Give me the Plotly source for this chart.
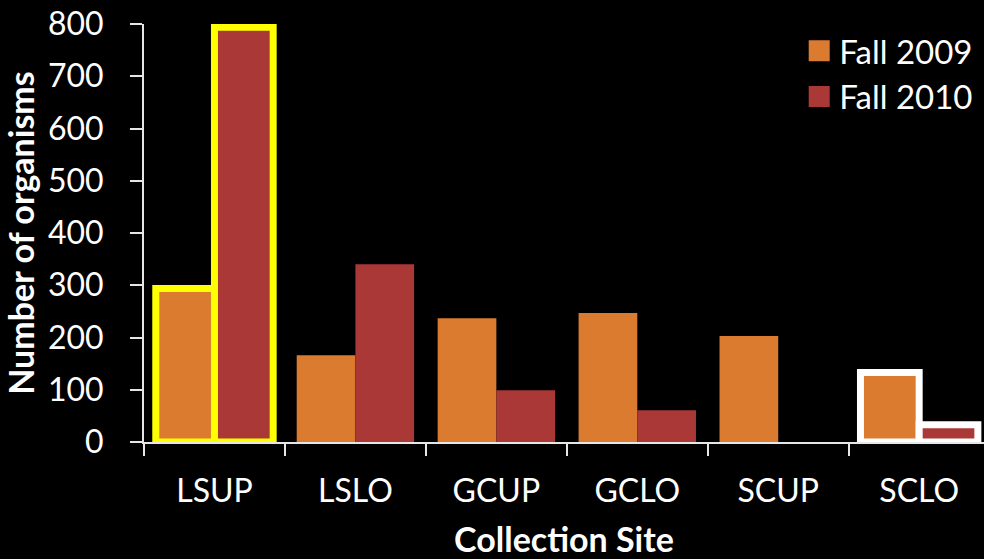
import plotly.graph_objects as go

# Organism counts per collection site, two sampling seasons
sites = ["LSUP", "LSLO", "GCUP", "GCLO", "SCUP", "SCLO"]
fall_2009 = [294, 166, 237, 247, 203, 133]
fall_2010 = [794, 340, 99, 61, 0, 33]
y_ticks = [0, 100, 200, 300, 400, 500, 600, 700, 800]

FONT = "Lato"
ORANGE = "#DB7B30"
RED = "#A93837"
AXIS = "#E6E6E6"
CLEAR = "rgba(0,0,0,0)"

# Highlight outlines: LSUP in yellow, SCLO in white
outline_2009 = ["#FFFF00", CLEAR, CLEAR, CLEAR, CLEAR, "#FFFFFF"]
outline_2010 = ["#FFFF00", CLEAR, CLEAR, CLEAR, CLEAR, "#FFFFFF"]
outline_w = [7, 0, 0, 0, 0, 7]

fig = go.Figure()
fig.add_trace(go.Bar(x=sites, y=fall_2009, name="Fall 2009", showlegend=False,
                     marker=dict(color=ORANGE, line=dict(color=outline_2009, width=outline_w))))
fig.add_trace(go.Bar(x=sites, y=fall_2010, name="Fall 2010", showlegend=False,
                     marker=dict(color=RED, line=dict(color=outline_2010, width=outline_w))))

# Legend entries with larger square swatches
for name, col in [("Fall 2009", ORANGE), ("Fall 2010", RED)]:
    fig.add_trace(go.Scatter(x=[None], y=[None], mode="markers", name=name,
                             marker=dict(symbol="square", size=16, color=col,
                                         line=dict(color=col, width=5))))

fig.update_layout(
    width=984, height=559,
    margin=dict(l=144, r=0, t=24, b=117),
    paper_bgcolor="black", plot_bgcolor="black",
    barmode="group", bargap=0.167, bargroupgap=0,
    font=dict(family=FONT, color="white", size=32),
    legend=dict(x=0.78, y=1.003, xanchor="left", yanchor="top",
                font=dict(family=FONT, size=33, color="white"),
                bgcolor="rgba(0,0,0,0)", itemsizing="trace", tracegroupgap=0),
    showlegend=True,
)
fig.update_xaxes(
    range=[-0.5, 5.46], showline=True, linecolor=AXIS, linewidth=2,
    ticks="outside", tickson="boundaries", ticklen=12, tickwidth=2, tickcolor=AXIS,
    tickfont=dict(family=FONT, size=32, color="white"), ticklabelstandoff=20,
    showgrid=False, zeroline=False,
    title=dict(text="<b>Collection Site</b>", font=dict(family=FONT, size=34, color="white"),
               standoff=24),
)
fig.update_yaxes(
    range=[0, 800], tickvals=y_ticks, showline=True, linecolor=AXIS, linewidth=2,
    ticks="outside", ticklen=12, tickwidth=2, tickcolor=AXIS,
    tickfont=dict(family=FONT, size=32, color="white"), ticklabelstandoff=20,
    showgrid=False, zeroline=False,
    title=dict(text="<b>Number of organisms</b>", font=dict(family=FONT, size=34, color="white"),
               standoff=6),
)

fig.write_html("out.html")
